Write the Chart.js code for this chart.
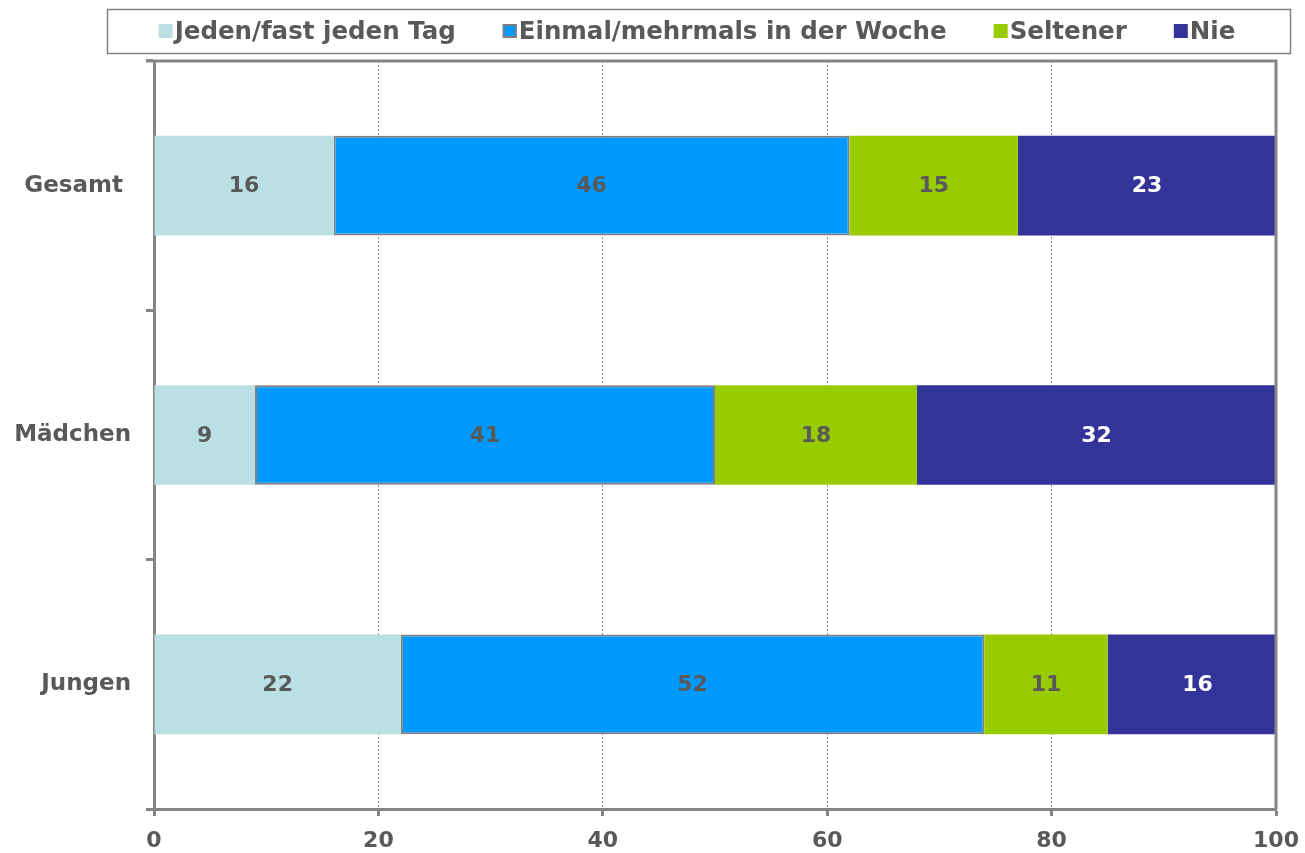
<!DOCTYPE html>
<html>
<head>
<meta charset="utf-8">
<script src="https://cdn.jsdelivr.net/npm/chart.js@4/dist/chart.umd.min.js"></script>
<style>
  body { margin: 0; background: #fff; }
</style>
</head>
<body>
<canvas id="myChart" width="1305" height="853"></canvas>
<script>
const categories = ['Gesamt ', 'Mädchen', 'Jungen']
const seriesNames = ['Jeden/fast jeden Tag', 'Einmal/mehrmals in der Woche', 'Seltener', 'Nie']
const jeden = [16, 9, 22]
const einmal = [46, 41, 52]
const seltener = [15, 18, 11]
const nie = [23, 32, 16]
const xTicks = [0, 20, 40, 60, 80, 100]

const textColor = '#595959'
const axisColor = '#868686'
const fontFamily = '"DejaVu Sans", Verdana, sans-serif'

// legend in a box on top, drawn by hand so the layout stays fixed
const boxLegend = {
  id: 'boxLegend',
  afterDraw(chart) {
    const ctx = chart.ctx
    ctx.save()
    ctx.strokeStyle = '#808080'
    ctx.lineWidth = 1.5
    ctx.strokeRect(107.5, 9.5, 1183, 44)
    ctx.font = 'bold 24.5px ' + fontFamily
    ctx.textBaseline = 'middle'
    const gap = 47
    const items = chart.data.datasets.map(ds => ({ ds, w: 16 + ctx.measureText(ds.label).width }))
    const total = items.reduce((s, it) => s + it.w, 0) + gap * (items.length - 1)
    let x = 697 - total / 2
    items.forEach(it => {
      ctx.fillStyle = it.ds.backgroundColor
      ctx.fillRect(x, 24, 14, 14)
      if (it.ds.borderWidth) {
        ctx.strokeStyle = it.ds.borderColor
        ctx.lineWidth = 2
        ctx.strokeRect(x + 1, 25, 12, 12)
      }
      ctx.fillStyle = textColor
      ctx.fillText(it.ds.label, x + 16, 33)
      x += it.w + gap
    })
    ctx.restore()
  },
}

// top and right frame lines of the plot
const frame = {
  id: 'frame',
  afterDatasetsDraw(chart) {
    const { ctx, chartArea: a } = chart
    ctx.save()
    ctx.strokeStyle = axisColor
    ctx.lineWidth = 3
    ctx.beginPath()
    ctx.moveTo(a.left - 8, a.top)
    ctx.lineTo(a.right + 1.5, a.top)
    ctx.moveTo(a.right, a.top)
    ctx.lineTo(a.right, a.bottom)
    ctx.stroke()
    ctx.restore()
  },
}

// value labels in the middle of each segment
const valueLabels = {
  id: 'valueLabels',
  afterDatasetsDraw(chart) {
    const ctx = chart.ctx
    ctx.save()
    ctx.font = 'bold 22px ' + fontFamily
    ctx.textAlign = 'center'
    ctx.textBaseline = 'middle'
    chart.data.datasets.forEach((ds, i) => {
      const meta = chart.getDatasetMeta(i)
      meta.data.forEach((bar, j) => {
        const p = bar.getCenterPoint()
        ctx.fillStyle = ds.labelColor
        ctx.fillText(ds.data[j], p.x, p.y + 1)
      })
    })
    ctx.restore()
  },
}

const colors = ['#BBE0E3', '#0099FF', '#99CC00', '#333399']
const values = [jeden, einmal, seltener, nie]

new Chart(document.getElementById('myChart').getContext('2d'), {
  type: 'bar',
  data: {
    labels: categories,
    datasets: seriesNames.map((name, i) => ({
      label: name,
      data: values[i],
      backgroundColor: colors[i],
      borderColor: '#7f7f7f',
      borderWidth: i === 1 ? 2 : 0,
      borderSkipped: false,
      labelColor: i === 3 ? '#ffffff' : textColor,
      barPercentage: 0.4,
      categoryPercentage: 1,
      clip: 0,
    })),
  },
  options: {
    indexAxis: 'y',
    responsive: false,
    devicePixelRatio: 1,
    animation: false,
    layout: { padding: { top: 61, right: 29, left: 0, bottom: 0 } },
    plugins: {
      legend: { display: false },
      tooltip: { enabled: false },
    },
    scales: {
      x: {
        stacked: true,
        min: 0,
        max: 100,
        afterBuildTicks: s => { s.ticks = xTicks.map(v => ({ value: v })) },
        ticks: { color: textColor, font: { family: fontFamily, size: 22, weight: 'bold' }, padding: 12 },
        grid: {
          color: c => (c.tick && (c.tick.value === 0 || c.tick.value === 100)) ? 'rgba(0,0,0,0)' : '#8a8a8a',
          lineWidth: 1,
          tickColor: axisColor,
          tickWidth: 3,
          tickLength: 7,
          tickBorderDash: [],
        },
        border: { color: axisColor, width: 3, dash: [2, 2] },
        afterFit: s => { s.height = 44; s.paddingLeft = 0; s.paddingRight = 0 },
      },
      y: {
        stacked: true,
        ticks: { color: textColor, font: { family: fontFamily, size: 23, weight: 'bold' }, padding: 15 },
        grid: {
          drawOnChartArea: false,
          offset: true,
          tickLength: 8,
          tickWidth: 3,
          tickColor: axisColor,
        },
        border: { color: axisColor, width: 3 },
        afterFit: s => { s.width = 154 },
      },
    },
  },
  plugins: [boxLegend, frame, valueLabels],
})
</script>
</body>
</html>
